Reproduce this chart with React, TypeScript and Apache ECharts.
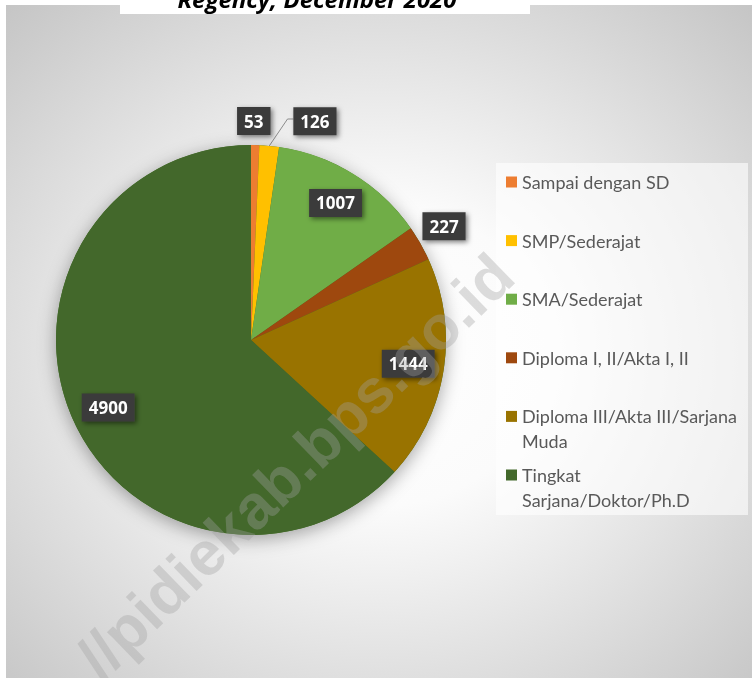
import React, { useEffect, useRef } from "react";
import * as echarts from "echarts";

const categories = [
  "Sampai dengan SD",
  "SMP/Sederajat",
  "SMA/Sederajat",
  "Diploma I, II/Akta I, II",
  "Diploma III/Akta III/Sarjana Muda",
  "Tingkat Sarjana/Doktor/Ph.D",
];
// legend texts as wrapped in the reference
const legendLabels = [
  "Sampai dengan SD",
  "SMP/Sederajat",
  "SMA/Sederajat",
  "Diploma I, II/Akta I, II",
  "Diploma III/Akta III/Sarjana\nMuda",
  "Tingkat\nSarjana/Doktor/Ph.D",
];
const values = [53, 126, 1007, 227, 1444, 4900];
const colors = ["#ED7D31", "#FFC000", "#70AD47", "#9E480E", "#997300", "#43682B"];
const titleText = "Regency, December 2020";
const watermarkText = "//pidiekab.bps.go.id";

const W = 752;
const H = 678;
const CX = 251;
const CY = 340;
const R = 195;
const labelDist = [219, 228, 161, 224, 159, 158];
const labelShift = [-0.5, 10.9, 0, -0.8, -0.5, -1.6];
const FONT = '"Open Sans", sans-serif';
const LEGEND_FONT = 'Lato, "Open Sans", sans-serif';

export default function App() {
  const ref = useRef<HTMLDivElement>(null);
  useEffect(() => {
    const chart = echarts.init(ref.current!, null, { renderer: "svg", width: W, height: H });
    const total = values.reduce((a, b) => a + b, 0);
    const mids: number[] = [];
    let acc = 0;
    values.forEach((v) => {
      mids.push(((acc + v / 2) / total) * 360);
      acc += v;
    });
    const polar = (d: number, deg: number) => {
      const a = (deg * Math.PI) / 180;
      return [CX + d * Math.sin(a), CY - d * Math.cos(a)];
    };
    const legendTop = 182;
    const legendStep = 58.6;
    const legendX = 506;
    const legendGraphics: any[] = [];
    legendLabels.forEach((name, i) => {
      const yc = legendTop + i * legendStep;
      legendGraphics.push({
        type: "rect",
        shape: { x: legendX, y: yc - 5.5, width: 11, height: 11 },
        style: { fill: colors[i] },
        z: 5,
      });
      legendGraphics.push({
        type: "text",
        x: legendX + 16,
        y: yc - 12.5,
        style: {
          text: name,
          font: `18px ${LEGEND_FONT}`,
          fill: "#595959",
          lineHeight: 25,
          verticalAlign: "top",
        },
        z: 5,
      });
    });

    chart.setOption({
      animation: false,
      graphic: [
        {
          type: "rect",
          shape: { x: 6, y: 5, width: W - 6, height: H - 5 },
          style: {
            fill: new echarts.graphic.RadialGradient(0.5, 0.52, 0.75, [
              { offset: 0, color: "#ffffff" },
              { offset: 0.3, color: "#fbfbfb" },
              { offset: 1, color: "#c2c2c2" },
            ]),
          },
          z: -10,
          silent: true,
        },
        {
          type: "rect",
          shape: { x: 120, y: 0, width: 410, height: 14 },
          style: { fill: "#ffffff" },
          z: -9,
          silent: true,
        },
        {
          type: "text",
          x: 317,
          y: 10,
          style: {
            text: titleText,
            font: `italic bold 24px ${FONT}`,
            fill: "#000000",
            align: "center",
            verticalAlign: "bottom",
          },
          z: 5,
        },
        {
          type: "rect",
          shape: { x: 496, y: 163, width: 252, height: 352 },
          style: { fill: "rgba(255,255,255,0.6)" },
          z: 4,
          silent: true,
        },
        ...legendGraphics,
        {
          type: "text",
          x: 295,
          y: 466,
          rotation: (44 * Math.PI) / 180,
          style: {
            text: watermarkText,
            font: 'bold 62px "Liberation Sans", sans-serif',
            fill: "rgba(160,160,160,0.36)",
            align: "center",
            verticalAlign: "middle",
          },
          z: 100,
          silent: true,
        },
      ],
      series: [
        {
          type: "pie",
          silent: true,
          center: [CX, CY],
          radius: R,
          data: [{ value: total }],
          itemStyle: {
            color: "#43682B",
            shadowBlur: 18,
            shadowColor: "rgba(0,0,0,0.35)",
            shadowOffsetY: 4,
          },
          label: { show: false },
          labelLine: { show: false },
        },
        {
          type: "pie",
          center: [CX, CY],
          radius: R,
          startAngle: 90,
          clockwise: true,
          avoidLabelOverlap: false,
          data: categories.map((n, i) => ({
            name: n,
            value: values[i],
            itemStyle: { color: colors[i] },
            labelLine: { show: i === 1 },
          })),
          label: {
            show: true,
            position: "outside",
            formatter: "{c}",
            color: "#ffffff",
            fontFamily: FONT,
            fontWeight: "bold",
            fontSize: 17,
            lineHeight: 20,
            backgroundColor: "#3b3b3b",
            padding: [4, 7],
            shadowBlur: 5,
            shadowColor: "rgba(0,0,0,0.5)",
            shadowOffsetX: 2,
            shadowOffsetY: 2,
          },
          labelLine: { show: false, lineStyle: { color: "#8c8c8c", width: 1 } },
          labelLayout: (p: any) => {
            const i = p.dataIndex;
            const [x, y] = polar(labelDist[i], mids[i] + labelShift[i]);
            const out: any = { x, y, align: "center", verticalAlign: "middle" };
            if (i === 1) {
              const p1 = polar(R, mids[i]);
              const p2 = polar(224, mids[i] + 4);
              out.labelLinePoints = [p1, p2, [x - p.labelRect.width / 2, p2[1]]];
            }
            return out;
          },
        },
      ],
    });
    return () => chart.dispose();
  }, []);
  return (
    <div
      ref={ref}
      style={{ position: "fixed", left: 0, top: 0, width: W, height: H }}
    />
  );
}
